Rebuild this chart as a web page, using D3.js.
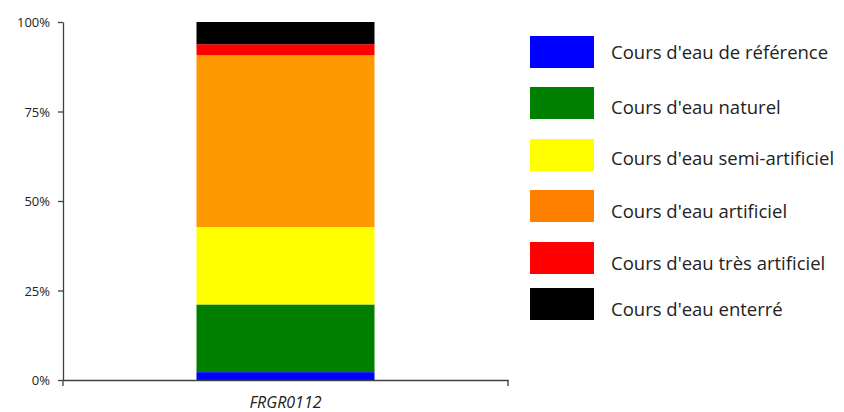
<!DOCTYPE html>
<html><head><meta charset="utf-8">
<script src="https://cdn.jsdelivr.net/npm/d3@7"></script>
<style>body{margin:0;background:#fff}svg{display:block}</style>
</head><body>
<svg id="c" width="844" height="412"></svg>
<script>
const categories = ["FRGR0112"];
const seriesNames = ["Cours d'eau de référence","Cours d'eau naturel","Cours d'eau semi-artificiel","Cours d'eau artificiel","Cours d'eau très artificiel","Cours d'eau enterré"];
const seriesValues = [[2.2],[18.9],[21.6],[48.0],[3.1],[6.2]];
const barColors = ["#0000ff","#008000","#ffff00","#ff9900","#ff0000","#000000"];
const legendColors = ["#0000ff","#008000","#ffff00","#ff8000","#ff0000","#000000"];
const tickValues = [0,25,50,75,100];

const svg = d3.select("#c");
const axisColor = "#404040";
const y = d3.scaleLinear().domain([0,100]).range([380,22]);
const x = d3.scaleBand().domain(categories).range([63,508]).paddingInner(0).paddingOuter(0);
const barW = 178;

const rows = categories.map((c,i)=>{const o={cat:c}; seriesNames.forEach((s,j)=>o[s]=seriesValues[j][i]); return o;});
const stacked = d3.stack().keys(seriesNames)(rows);
const total = d3.sum(seriesValues, v=>v[0]);
const norm = v => v/total*100;

svg.append("g").selectAll("g").data(stacked).join("g")
  .attr("fill",(d,i)=>barColors[i])
  .selectAll("rect").data(d=>d).join("rect")
  .attr("x",d=>x(d.data.cat)+x.bandwidth()/2-barW/2)
  .attr("width",barW)
  .attr("y",d=>y(norm(d[1])))
  .attr("height",d=>y(norm(d[0]))-y(norm(d[1])));

// y axis
const yAxis = d3.axisLeft(y).tickValues(tickValues).tickFormat(d=>d+"%").tickSize(5).tickSizeOuter(0);
const gy = svg.append("g").attr("transform","translate(63,0)").call(yAxis);
gy.select(".domain").attr("stroke",axisColor).attr("stroke-width",1.3);
gy.selectAll(".tick line").attr("stroke",axisColor).attr("stroke-width",1.3);
gy.selectAll(".tick text").attr("font-family","'Open Sans', sans-serif").attr("font-size",13).attr("fill","#222").attr("x",-13).attr("dy","0.35em");

// x axis
const xAxis = d3.axisBottom(x).tickSize(0).tickSizeOuter(0);
const gx = svg.append("g").attr("transform","translate(0,380)").call(xAxis);
gx.select(".domain").attr("stroke",axisColor).attr("stroke-width",1.3);
gx.selectAll(".tick text").attr("font-family","'Open Sans', sans-serif").attr("font-size",16).attr("font-style","italic").attr("fill","#222").attr("y",22).attr("dy","0.35em");
svg.append("g").selectAll("line").data(x.range()).join("line")
  .attr("x1",d=>d).attr("x2",d=>d).attr("y1",380).attr("y2",386)
  .attr("stroke",axisColor).attr("stroke-width",1.3);

// legend
const legY = [36,87,139,190,242,288];
const textY = [53,108,159,212,264,310];
const leg = svg.append("g");
seriesNames.forEach((s,i)=>{
  leg.append("rect").attr("x",530).attr("y",legY[i]).attr("width",64).attr("height",32).attr("fill",legendColors[i]);
  leg.append("text").attr("x",611).attr("y",textY[i]).attr("dy","0.35em")
    .attr("font-family","'Open Sans', sans-serif").attr("font-size",18.5).attr("fill","#222").text(s);
});
</script>
</body></html>
